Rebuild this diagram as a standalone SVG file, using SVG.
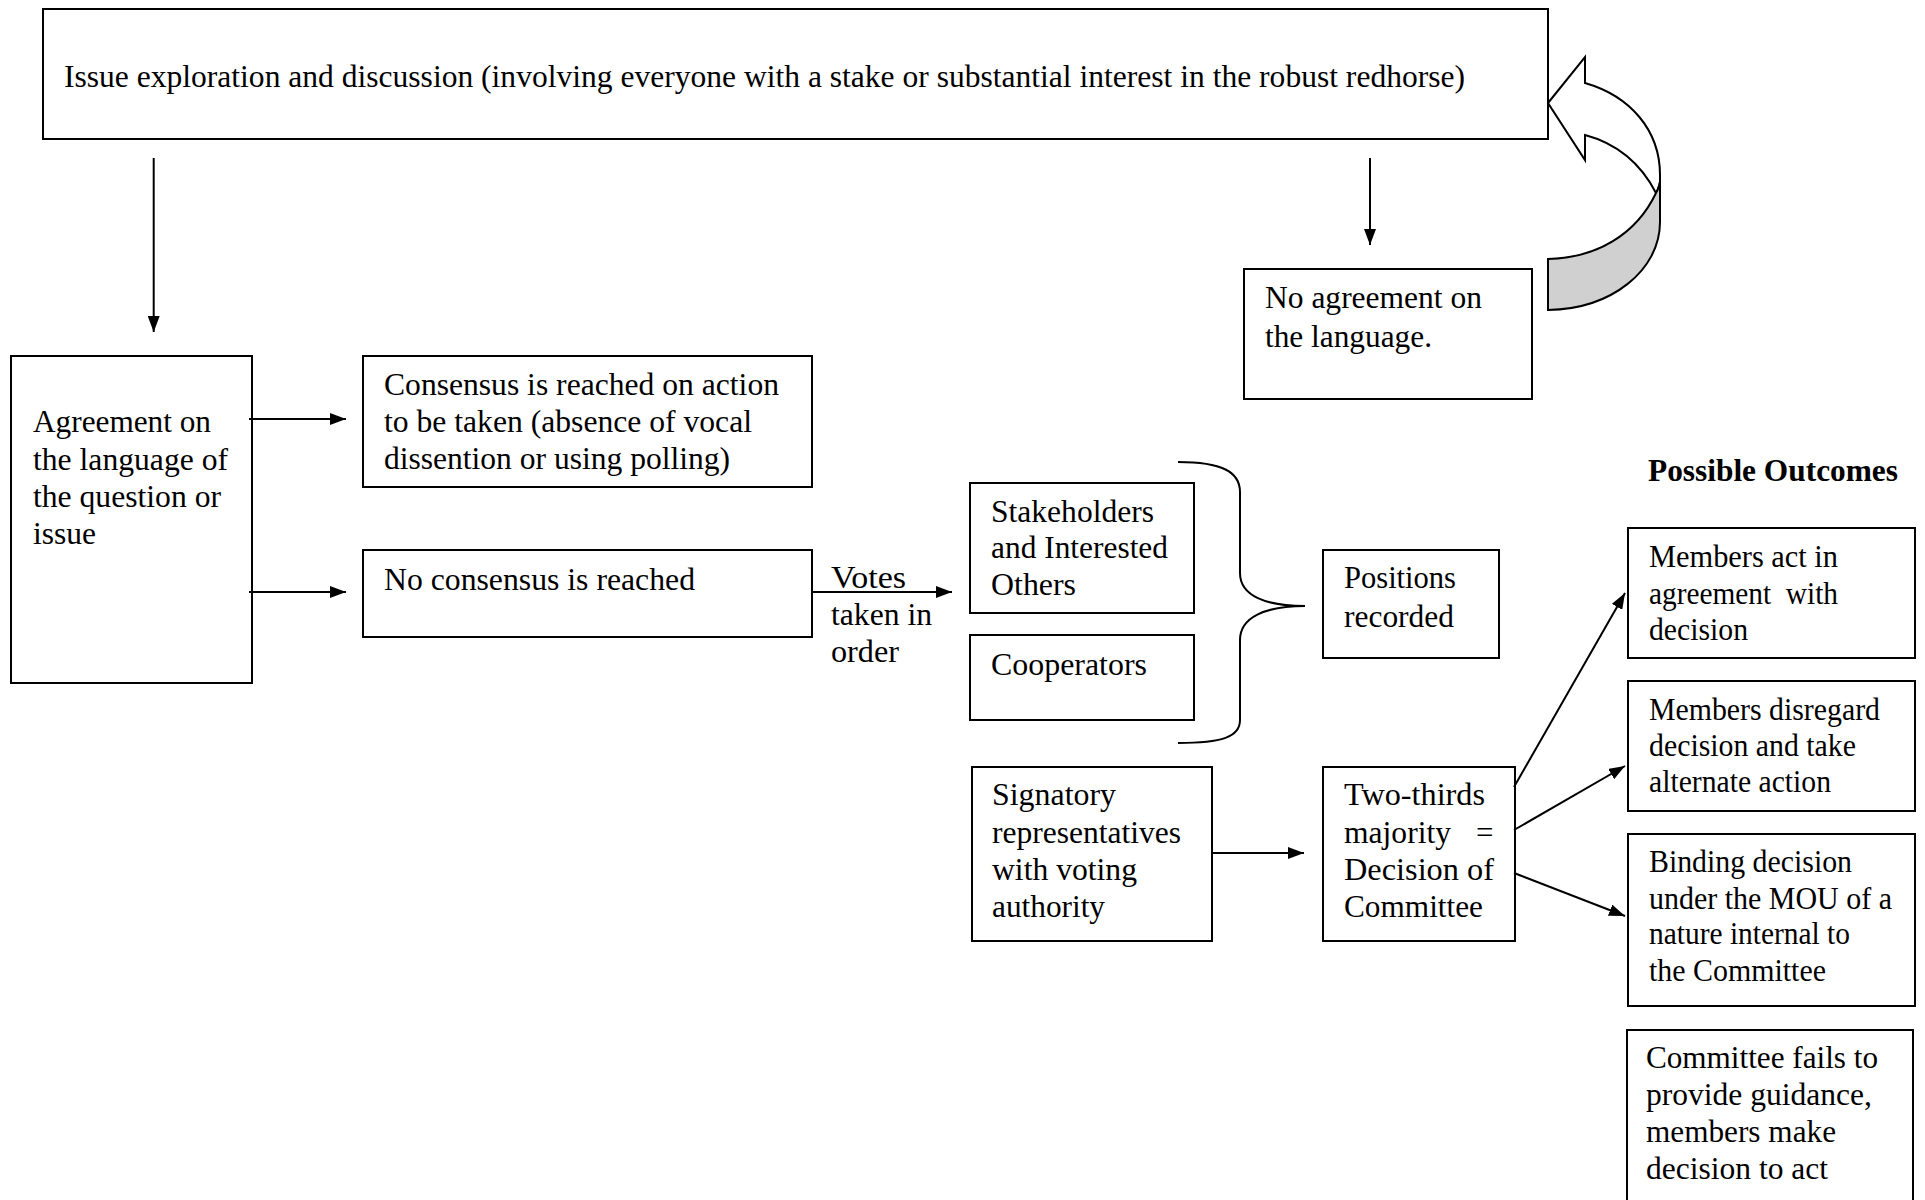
<svg xmlns="http://www.w3.org/2000/svg" width="1925" height="1200" viewBox="0 0 1925 1200">
<style>
.box{fill:#fff;stroke:#000;stroke-width:2}
.t{font-family:"Liberation Serif","Times New Roman",serif;font-size:31px;fill:#000}
.b{font-weight:bold}
.pre{white-space:pre}
.ln{fill:none;stroke:#000;stroke-width:2}
</style>
<defs>
<marker id="ah" viewBox="0 0 16 12" refX="16" refY="6" markerWidth="16" markerHeight="12" markerUnits="userSpaceOnUse" orient="auto">
<path d="M0,0 L16,6 L0,12 Z" fill="#000"/>
</marker>
</defs>
<rect width="1925" height="1200" fill="#fff"/>

<g id="issue">
<rect class="box" x="43" y="9" width="1505" height="130"/>
<text class="t" x="64" y="87" textLength="1401" lengthAdjust="spacingAndGlyphs">Issue exploration and discussion (involving everyone with a stake or substantial interest in the robust redhorse)</text>
</g>

<g id="agreement">
<rect class="box" x="11" y="356" width="241" height="327"/>
<text class="t" x="33" y="432" textLength="178" lengthAdjust="spacingAndGlyphs">Agreement on</text>
<text class="t" x="33" y="470" textLength="195" lengthAdjust="spacingAndGlyphs">the language of</text>
<text class="t" x="33" y="507" textLength="188" lengthAdjust="spacingAndGlyphs">the question or</text>
<text class="t" x="33" y="544" textLength="63" lengthAdjust="spacingAndGlyphs">issue</text>
</g>

<g id="no-agreement">
<rect class="box" x="1244" y="269" width="288" height="130"/>
<text class="t" x="1265" y="308" textLength="217" lengthAdjust="spacingAndGlyphs">No agreement on</text>
<text class="t" x="1265" y="347" textLength="167" lengthAdjust="spacingAndGlyphs">the language.</text>
</g>

<g id="consensus">
<rect class="box" x="363" y="356" width="449" height="131"/>
<text class="t" x="384" y="395" textLength="395" lengthAdjust="spacingAndGlyphs">Consensus is reached on action</text>
<text class="t" x="384" y="432" textLength="368" lengthAdjust="spacingAndGlyphs">to be taken (absence of vocal</text>
<text class="t" x="384" y="469" textLength="346" lengthAdjust="spacingAndGlyphs">dissention or using polling)</text>
</g>

<g id="no-consensus">
<rect class="box" x="363" y="550" width="449" height="87"/>
<text class="t" x="384" y="590" textLength="311" lengthAdjust="spacingAndGlyphs">No consensus is reached</text>
</g>

<g id="votes-label">
<text class="t" x="831" y="588" textLength="75" lengthAdjust="spacingAndGlyphs">Votes</text>
<text class="t" x="831" y="625" textLength="101" lengthAdjust="spacingAndGlyphs">taken in</text>
<text class="t" x="831" y="662" textLength="68" lengthAdjust="spacingAndGlyphs">order</text>
</g>

<g id="stakeholders">
<rect class="box" x="970" y="483" width="224" height="130"/>
<text class="t" x="991" y="522" textLength="163" lengthAdjust="spacingAndGlyphs">Stakeholders</text>
<text class="t" x="991" y="558" textLength="177" lengthAdjust="spacingAndGlyphs">and Interested</text>
<text class="t" x="991" y="595" textLength="85" lengthAdjust="spacingAndGlyphs">Others</text>
</g>

<g id="cooperators">
<rect class="box" x="970" y="635" width="224" height="85"/>
<text class="t" x="991" y="675" textLength="156" lengthAdjust="spacingAndGlyphs">Cooperators</text>
</g>

<g id="positions">
<rect class="box" x="1323" y="550" width="176" height="108"/>
<text class="t" x="1344" y="588" textLength="112" lengthAdjust="spacingAndGlyphs">Positions</text>
<text class="t" x="1344" y="627" textLength="110" lengthAdjust="spacingAndGlyphs">recorded</text>
</g>

<g id="signatory">
<rect class="box" x="972" y="767" width="240" height="174"/>
<text class="t" x="992" y="805" textLength="124" lengthAdjust="spacingAndGlyphs">Signatory</text>
<text class="t" x="992" y="843" textLength="189" lengthAdjust="spacingAndGlyphs">representatives</text>
<text class="t" x="992" y="880" textLength="145" lengthAdjust="spacingAndGlyphs">with voting</text>
<text class="t" x="992" y="917" textLength="113" lengthAdjust="spacingAndGlyphs">authority</text>
</g>

<g id="two-thirds">
<rect class="box" x="1323" y="767" width="192" height="174"/>
<text class="t" x="1344" y="805" textLength="141" lengthAdjust="spacingAndGlyphs">Two-thirds</text>
<text class="t" x="1344" y="843"><tspan textLength="107" lengthAdjust="spacingAndGlyphs">majority</tspan><tspan x="1476">=</tspan></text>
<text class="t" x="1344" y="880" textLength="150" lengthAdjust="spacingAndGlyphs">Decision of</text>
<text class="t" x="1344" y="917" textLength="139" lengthAdjust="spacingAndGlyphs">Committee</text>
</g>

<g id="outcomes-title">
<text class="t b" x="1648" y="481" textLength="250" lengthAdjust="spacingAndGlyphs">Possible Outcomes</text>
</g>

<g id="outcome-1">
<rect class="box" x="1628" y="528" width="287" height="130"/>
<text class="t" x="1649" y="567" textLength="189" lengthAdjust="spacingAndGlyphs">Members act in</text>
<text class="t pre" x="1649" y="604" textLength="189" lengthAdjust="spacingAndGlyphs">agreement  with</text>
<text class="t" x="1649" y="640" textLength="99" lengthAdjust="spacingAndGlyphs">decision</text>
</g>

<g id="outcome-2">
<rect class="box" x="1628" y="681" width="287" height="130"/>
<text class="t" x="1649" y="720" textLength="231" lengthAdjust="spacingAndGlyphs">Members disregard</text>
<text class="t" x="1649" y="756" textLength="207" lengthAdjust="spacingAndGlyphs">decision and take</text>
<text class="t" x="1649" y="792" textLength="182" lengthAdjust="spacingAndGlyphs">alternate action</text>
</g>

<g id="outcome-3">
<rect class="box" x="1628" y="834" width="287" height="172"/>
<text class="t" x="1649" y="872" textLength="203" lengthAdjust="spacingAndGlyphs">Binding decision</text>
<text class="t" x="1649" y="909" textLength="243" lengthAdjust="spacingAndGlyphs">under the MOU of a</text>
<text class="t" x="1649" y="944" textLength="201" lengthAdjust="spacingAndGlyphs">nature internal to</text>
<text class="t" x="1649" y="981" textLength="177" lengthAdjust="spacingAndGlyphs">the Committee</text>
</g>

<g id="outcome-4">
<rect class="box" x="1627" y="1030" width="286" height="190"/>
<text class="t" x="1646" y="1068" textLength="232" lengthAdjust="spacingAndGlyphs">Committee fails to</text>
<text class="t" x="1646" y="1105" textLength="226" lengthAdjust="spacingAndGlyphs">provide guidance,</text>
<text class="t" x="1646" y="1142" textLength="190" lengthAdjust="spacingAndGlyphs">members make</text>
<text class="t" x="1646" y="1179" textLength="182" lengthAdjust="spacingAndGlyphs">decision to act</text>
</g>

<g id="connectors">
<path class="ln" d="M153.7,158 L153.7,332" marker-end="url(#ah)"/>
<path class="ln" d="M1370,158 L1370,245" marker-end="url(#ah)"/>
<path class="ln" d="M249,419 L346,419" marker-end="url(#ah)"/>
<path class="ln" d="M249,592 L346,592" marker-end="url(#ah)"/>
<path class="ln" d="M812,592 L952,592" marker-end="url(#ah)"/>
<path class="ln" d="M1212,853 L1304,853" marker-end="url(#ah)"/>
<path class="ln" d="M1514,787 L1625,593" marker-end="url(#ah)"/>
<path class="ln" d="M1514,830 L1625,766" marker-end="url(#ah)"/>
<path class="ln" d="M1514,873 L1625,916" marker-end="url(#ah)"/>
<path class="ln" d="M1178,462 C1222,462 1240,472 1240,492 L1240,573 C1240,596 1266,606 1305,606 C1266,606 1240,617 1240,640 L1240,720 C1240,737 1222,743 1178,743"/>
<path fill="#fff" stroke="#000" stroke-width="2" stroke-linejoin="miter" d="M1548,103 L1585,57 L1585,83 C1630,96 1660,130 1660,175 L1660,182 C1659,187 1658,190 1656,193 C1640,162 1615,143 1585,135 L1585,160 Z"/>
<path fill="#d0d0d0" stroke="#000" stroke-width="2" d="M1656,193 C1636,235 1596,258 1548,259 L1548,310 C1612,309 1660,270 1660,222 L1660,182 C1659,187 1658,190 1656,193 Z"/>
</g>
</svg>
